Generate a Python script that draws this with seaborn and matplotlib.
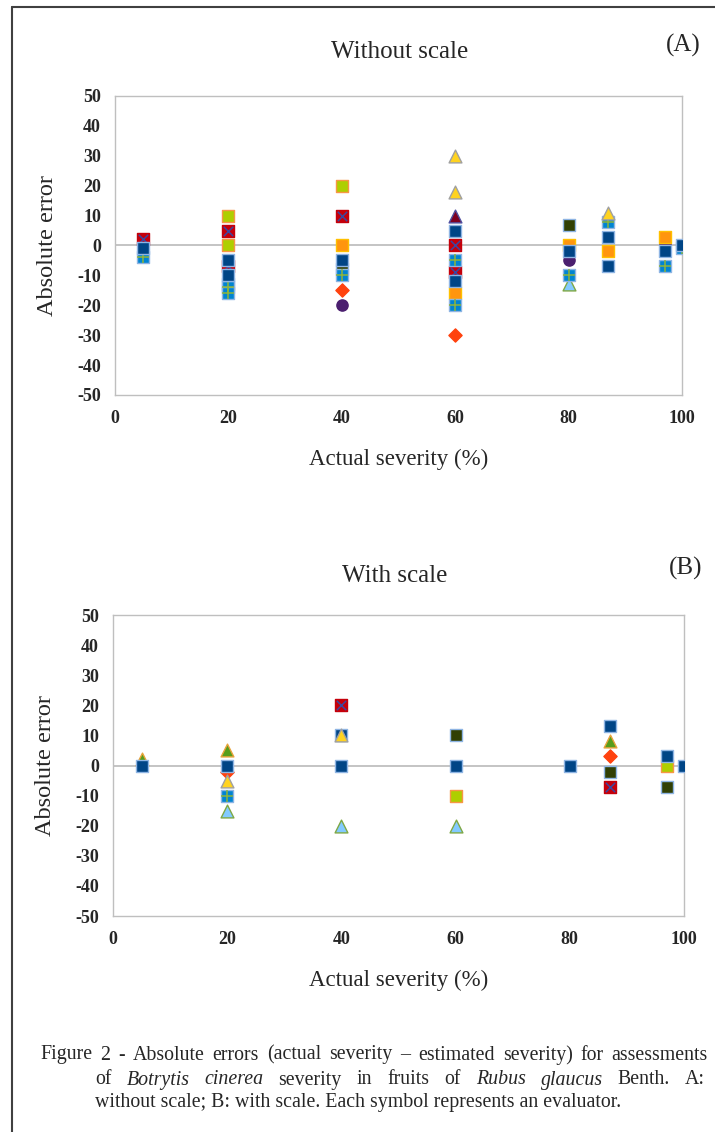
import pandas as pd
import matplotlib.pyplot as plt
import seaborn as sns
from matplotlib.lines import Line2D

sev_a = [5, 5, 5,
         20, 20, 20, 20, 20, 20, 20, 20, 20,
         40, 40, 40, 40, 40, 40, 40, 40,
         60, 60, 60, 60, 60, 60, 60, 60, 60, 60, 60,
         80, 80, 80, 80, 80, 80,
         87, 87, 87, 87, 87,
         97, 97, 97, 97,
         100, 100]
err_a = [2, -1, -4,
         10, 5, 0, -5, -7, -10, -13, -14, -16,
         20, 10, 0, -5, -8, -10, -15, -20,
         30, 18, 10, 5, 0, -5, -9, -12, -16, -20, -30,
         7, 0, -2, -5, -10, -13,
         11, 8, 3, -2, -7,
         3, 0, -2, -7,
         0, -1]
who_a = ['red_x', 'navy', 'blue_plus',
         'lime', 'red_x', 'lime', 'navy', 'red_x', 'navy', 'olive', 'blue_plus', 'blue_plus',
         'lime', 'red_x', 'orange', 'navy', 'olive', 'blue_plus', 'diamond', 'purple',
         'yellow', 'yellow', 'maroon', 'navy', 'red_x', 'blue_plus', 'red_x', 'navy', 'orange', 'blue_plus', 'diamond',
         'olive', 'orange', 'navy', 'purple', 'blue_plus', 'ltblue',
         'yellow', 'blue_plus', 'navy', 'orange', 'navy',
         'orange', 'purple', 'navy', 'blue_plus',
         'navy', 'blue_plus']

sev_b = [5, 5,
         20, 20, 20, 20, 20, 20,
         40, 40, 40, 40, 40,
         60, 60, 60, 60,
         80,
         87, 87, 87, 87, 87,
         97, 97, 97,
         100]
err_b = [2, 0,
         5, 0, -2, -5, -10, -15,
         20, 10, 10, 0, -20,
         10, 0, -10, -20,
         0,
         13, 8, 3, -2, -7,
         3, 0, -7,
         0]
who_b = ['green_tri', 'navy',
         'green_tri', 'navy', 'diamond', 'yellow', 'blue_plus', 'ltblue',
         'red_x', 'navy', 'yellow', 'navy', 'ltblue',
         'olive', 'navy', 'lime', 'ltblue',
         'navy',
         'navy', 'green_tri', 'diamond', 'olive', 'red_x',
         'navy', 'lime', 'olive',
         'navy']

# estilo de cada evaluador: marcador, relleno, borde, tamano
styles = {
    'olive':     ('s', '#314004', '#8EB4E3', 70),
    'red_x':     ('s', '#C5000B', '#C5000B', 70),
    'purple':    ('o', '#4B1F6F', '#4B1F6F', 65),
    'diamond':   ('D', '#FF420E', '#FF420E', 45),
    'lime':      ('s', '#AECF00', '#F79646', 70),
    'orange':    ('s', '#FF950E', '#FFC000', 70),
    'green_tri': ('^', '#579D1C', '#E8A33A', 85),
    'ltblue':    ('^', '#83CAFF', '#7FA845', 85),
    'blue_plus': ('s', '#0084D1', '#8EB4E3', 70),
    'navy':      ('s', '#004586', '#8EB4E3', 70),
    'yellow':    ('^', '#FFD320', '#A0A0A0', 85),
    'maroon':    ('^', '#7E0021', '#5050A0', 85),
}

sns.set_style("white")
plt.rcParams['font.family'] = ['Liberation Serif', 'DejaVu Serif']
plt.rcParams['axes.unicode_minus'] = False

fig = plt.figure(figsize=(7.15, 11.32), dpi=100)
ax_a = fig.add_axes([0.1608, 0.6511, 0.793, 0.2641])
ax_b = fig.add_axes([0.158, 0.1908, 0.7986, 0.2659])


def draw_panel(ax, sev, err, who):
    df = pd.DataFrame({'severity': sev, 'error': err, 'evaluator': who})
    ax.axhline(0, color='#BFBFBF', lw=1.3, zorder=1)
    for z, (name, (mk, face, edge, size)) in enumerate(styles.items()):
        sub = df[df['evaluator'] == name]
        if sub.empty:
            continue
        sns.scatterplot(data=sub, x='severity', y='error', marker=mk, s=size,
                        color=face, edgecolor=edge, linewidth=1, ax=ax, zorder=3 + z)
        if name == 'red_x':
            sns.scatterplot(data=sub, x='severity', y='error', marker='x', s=45,
                            color='#3C46A0', linewidth=1.1, ax=ax, zorder=3 + z)
        if name == 'blue_plus':
            sns.scatterplot(data=sub, x='severity', y='error', marker='+', s=70,
                            color='#8DB43C', linewidth=1.1, ax=ax, zorder=3 + z)
    ax.set_xlim(0, 100)
    ax.set_ylim(-50, 50)
    ax.set_xticks(range(0, 101, 20))
    ax.set_yticks(range(-50, 51, 10))
    for sp in ax.spines.values():
        sp.set_color('#BFBFBF')
        sp.set_linewidth(1)
    ax.tick_params(axis='y', length=5, width=1, color='#A6A6A6', pad=5, labelsize=13)
    ax.tick_params(axis='x', length=0, pad=11, labelsize=13)
    for lab in ax.get_xticklabels() + ax.get_yticklabels():
        lab.set_fontweight('bold')
    ax.set_xlabel('Actual severity (%)', fontsize=16.5)
    ax.set_ylabel('Absolute error', fontsize=17.5)
    ax.xaxis.set_label_coords(0.5, -0.18)
    ax.yaxis.set_label_coords(-0.1, 0.5)


draw_panel(ax_a, sev_a, err_a, who_a)
draw_panel(ax_b, sev_b, err_b, who_b)

fig.text(0.559, 0.954, 'Without scale', fontsize=18, ha='center', va='center')
fig.text(0.955, 0.960, '(A)', fontsize=18, ha='center', va='center')
fig.text(0.552, 0.491, 'With scale', fontsize=18, ha='center', va='center')
fig.text(0.959, 0.498, '(B)', fontsize=18, ha='center', va='center')

# marco exterior (solo lados izquierdo y superior visibles)
fig.add_artist(Line2D([12 / 715, 12 / 715], [0, 1 - 7 / 1132], transform=fig.transFigure,
                      color='#404040', lw=1.5))
fig.add_artist(Line2D([12 / 715, 1], [1 - 7 / 1132, 1 - 7 / 1132], transform=fig.transFigure,
                      color='#404040', lw=1.5))


def justify(words, x0, x1, y, fs=14.3):
    texts = [fig.text(0, y, w, fontsize=fs, style=st, va='center') for w, st in words]
    fig.canvas.draw()
    r = fig.canvas.get_renderer()
    widths = [t.get_window_extent(r).width / fig.bbox.width for t in texts]
    gap = (x1 - x0 - sum(widths)) / (len(texts) - 1)
    x = x0
    for t, w in zip(texts, widths):
        t.set_x(x)
        x += w + gap


line1 = 'Figure 2 - Absolute errors (actual severity \u2013 estimated severity) for assessments'
justify([(w, 'normal') for w in line1.split()], 40 / 715, 708 / 715, 1 - 1055 / 1132)
line2 = [('of', 'normal'), ('Botrytis', 'italic'), ('cinerea', 'italic'), ('severity', 'normal'),
         ('in', 'normal'), ('fruits', 'normal'), ('of', 'normal'), ('Rubus', 'italic'),
         ('glaucus', 'italic'), ('Benth.', 'normal'), ('A:', 'normal')]
justify(line2, 95 / 715, 705 / 715, 1 - 1080 / 1132)
fig.text(95 / 715, 1 - 1103 / 1132,
         'without scale; B: with scale. Each symbol represents an evaluator.',
         fontsize=14.3, va='center')

fig.savefig('out.png', dpi=100, facecolor='white')
